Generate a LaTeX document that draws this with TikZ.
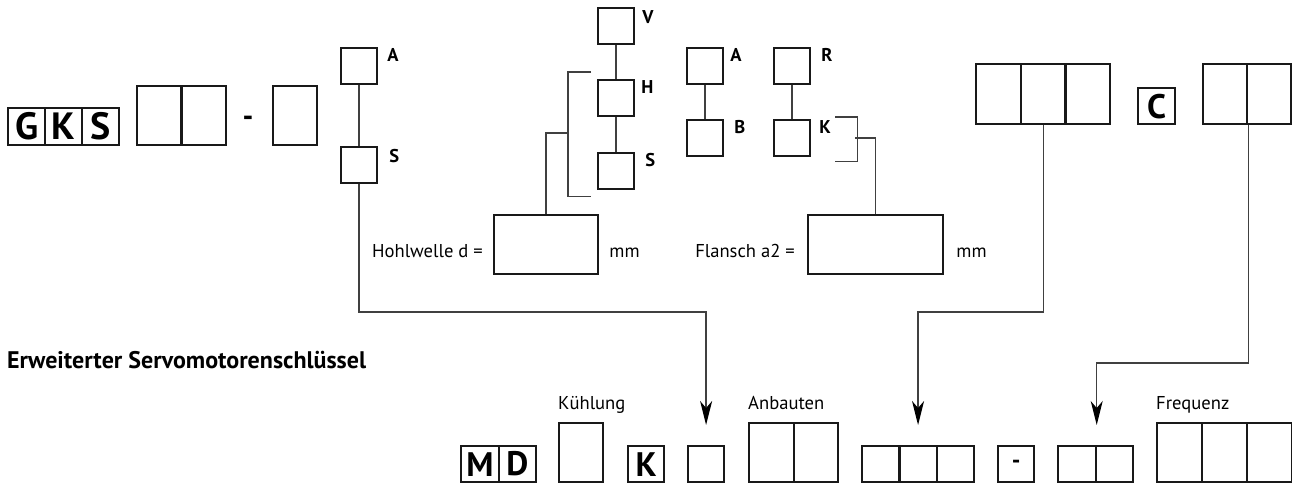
\documentclass[tikz,border=0pt]{standalone}
\usepackage{fontspec}
\setmainfont{PT Sans}
\usetikzlibrary{arrows.meta}
\tikzset{
  cell/.style={draw=black!90, line width=2.2pt, inner sep=0pt, anchor=north west},
  sq/.style={cell, minimum width=36pt, minimum height=36pt},
  tall/.style={cell, minimum width=44pt, minimum height=59pt},
  letter/.style={font=\fontsize{34}{34}\selectfont\bfseries},
  tag/.style={font=\fontsize{18.5}{18.5}\selectfont\bfseries, inner sep=0pt, anchor=base west},
  txt/.style={font=\fontsize{18.6}{18.6}\selectfont, inner sep=0pt},
  conn/.style={draw=black!75, line width=1.3pt},
  feed/.style={conn, -{Stealth[length=24pt,width=12pt,inset=7pt,color=black]}, shorten >=20pt}
}

\begin{document}
\begin{tikzpicture}[x=1pt,y=-1pt]
\useasboundingbox (0,0) rectangle (1292,484);

% top key
\foreach \l [count=\i from 0] in {G,K,S}
\node[cell, minimum width=37pt, minimum height=37pt, font=\fontsize{38}{38}\selectfont\bfseries] (gks\i) at (7+37*\i,107) {\l};
\foreach \i in {0,1}
\node[tall] (size\i) at (136+44.5*\i,85) {};
\node[font=\fontsize{30}{30}\selectfont\bfseries, inner sep=0pt, anchor=base] (dashA) at (248,126) {-};
\node[tall] (stage) at (272,85) {};

\node[sq] (sA) at (340,47) {};
\node[sq] (sS) at (340,146) {};
\node[tag] (tA) at ([shift={(9,15)}]sA.north east) {A};
\node[tag] (tS) at ([shift={(11,16)}]sS.north east) {S};
\draw[conn] (sA) -- (sS);

\node[sq] (sV) at (597,7) {};
\node[sq] (sH) at (597,79) {};
\node[sq] (sS2) at (597,152) {};
\node[tag] (tV) at ([shift={(7,17)}]sV.north east) {V};
\node[tag] (tH) at ([shift={(6,15)}]sH.north east) {H};
\node[tag] (tS2) at ([shift={(10,14)}]sS2.north east) {S};
\draw[conn] (sV) -- (sH);
\draw[conn] (sH) -- (sS2);

\node[sq] (sA2) at (686,47) {};
\node[sq] (sB) at (686,119) {};
\node[tag] (tA2) at ([shift={(6,15)}]sA2.north east) {A};
\node[tag] (tB) at ([shift={(10,14)}]sB.north east) {B};
\draw[conn] (sA2) -- (sB);

\node[sq] (sR) at (773,47) {};
\node[sq] (sK) at (773,119) {};
\node[tag] (tR) at ([shift={(10,15)}]sR.north east) {R};
\node[tag] (tK) at ([shift={(8,14)}]sK.north east) {K};
\draw[conn] (sR) -- (sK);

\node[cell, minimum width=104pt, minimum height=59pt] (hohl) at (493,214) {};
\node[txt, anchor=base east] (hohlT) at ([shift={(-10,43)}]hohl.north west) {Hohlwelle d =};
\node[txt, anchor=base west] (hohlU) at ([shift={(10,43)}]hohl.north east) {mm};
\node[cell, minimum width=135pt, minimum height=59pt] (flansch) at (807,214) {};
\node[txt, anchor=base east] (flanschT) at ([shift={(-12,43)}]flansch.north west) {Flansch a2 =};
\node[txt, anchor=base west] (flanschU) at ([shift={(12,43)}]flansch.north east) {mm};

% brackets
\draw[conn] ([shift={(-6,-7)}]sH.north west) -| ([shift={(-29,6)}]sS2.south west) -- ([shift={(-6,6)}]sS2.south west);
\coordinate (brL) at (568,133);
\draw[conn] (brL) -| (hohl.north);
\draw[conn] ([shift={(24,-2)}]sK.north east) -| ([shift={(46,4)}]sK.south east) -- ([shift={(24,4)}]sK.south east);
\coordinate (brR) at (855,138);
\draw[conn] (brR) -| (flansch.north);

\foreach \i in {0,1,2}
\node[cell, minimum width=44.7pt, minimum height=60pt] (volt\i) at (975+44.7*\i,63) {};
\node[cell, minimum width=37pt, minimum height=36pt, letter] (boxC) at (1137,87) {C};
\foreach \i in {0,1}
\node[cell, minimum width=44pt, minimum height=60pt] (rpm\i) at (1202+44*\i,63) {};

% bottom key
\node[font=\fontsize{24}{24}\selectfont\bfseries, inner sep=0pt, anchor=base west] (title) at (7,368) {Erweiterter Servomotorenschlüssel};

\foreach \l [count=\i from 0] in {M,D}
\node[cell, minimum width=37.5pt, minimum height=36pt, letter] (md\i) at (460+37.5*\i,445) {\l};
\node[tall] (kuehl) at (558,422) {};
\node[sq, letter] (bK) at (627,445) {K};
\node[sq] (kk) at (687,445) {};
\foreach \i in {0,1}
\node[cell, minimum width=44.5pt, minimum height=59pt] (anb\i) at (748+44.5*\i,422) {};
\foreach \i in {0,1,2}
\node[cell, minimum width=37.3pt, minimum height=36pt] (bvolt\i) at (861+37.3*\i,445) {};
\node[sq, font=\fontsize{24}{24}\selectfont\bfseries] (bdash) at (997,445) {-};
\foreach \i in {0,1}
\node[cell, minimum width=37.5pt, minimum height=36pt] (brpm\i) at (1057+37.5*\i,445) {};
\foreach \i in {0,1,2}
\node[cell, minimum width=45pt, minimum height=59pt] (freq\i) at (1156+45*\i,422) {};

\node[txt, anchor=base west] (kuehlT) at ([shift={(0,-13)}]kuehl.north west) {Kühlung};
\node[txt, anchor=base west] (anbT) at ([shift={(0,-13)}]anb0.north west) {Anbauten};
\node[txt, anchor=base west] (freqT) at ([shift={(0,-13)}]freq0.north west) {Frequenz};

% connectors
\coordinate (lvlA) at (0,312);
\coordinate (lvlB) at (0,363);
\draw[feed] (sS.south) |- (kk.north |- lvlA) -- (kk.north);
\draw[feed] (volt1.south) |- (bvolt1.north |- lvlA) -- (bvolt1.north);
\draw[feed] (rpm0.south east) |- (brpm0.north east |- lvlB) -- (brpm0.north east);
\end{tikzpicture}
\end{document}
